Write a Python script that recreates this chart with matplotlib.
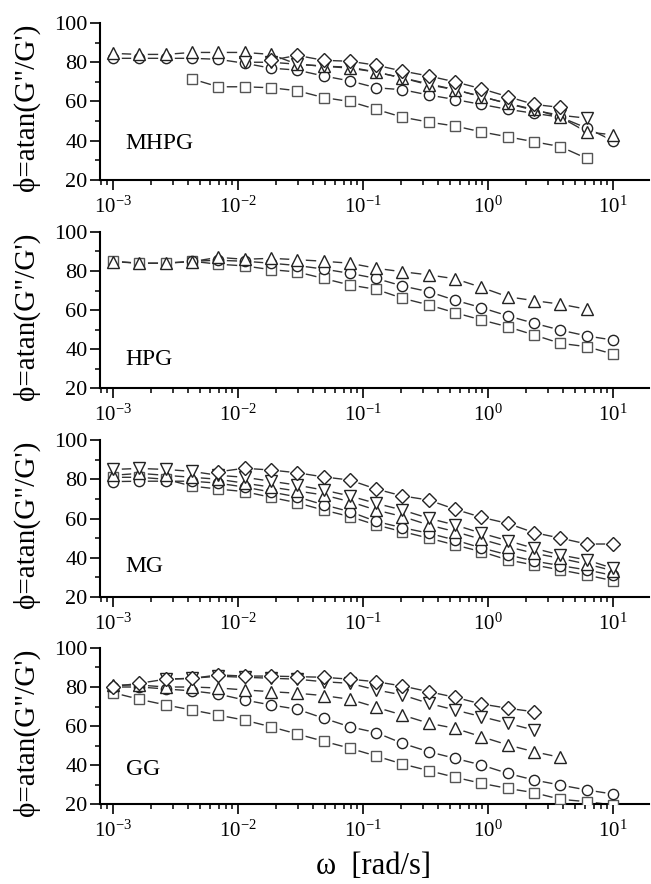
import numpy as np
import matplotlib
matplotlib.use("Agg")
import matplotlib.pyplot as plt
from matplotlib.ticker import LogLocator, MultipleLocator, NullFormatter

plt.rcParams['font.family'] = ['Liberation Serif', 'DejaVu Serif']
plt.rcParams['mathtext.fontset'] = 'custom'
plt.rcParams['mathtext.rm'] = 'Liberation Serif'

nan = np.nan

# angular frequency (rad/s)
omega = [0.001, 0.001624, 0.002637, 0.004281, 0.006952, 0.01129, 0.01833,
         0.02976, 0.04833, 0.07848, 0.1274, 0.2069, 0.336, 0.5456, 0.8859,
         1.438, 2.336, 3.793, 6.158, 10.0]

# MHPG
mhpg_sq = [nan, nan, nan, 71.5, 67.5, 67.5, 67, 65.5, 62, 60, 56, 52, 49.5,
           47.5, 44.5, 42, 39.5, 37, 31, nan]
mhpg_ci = [82, 82, 82, 82, 81.5, 79.5, 77, 76, 73, 70.5, 67, 66, 63.3, 61,
           58.5, 56, 54, 52, 46.5, 40]
mhpg_up = [84.5, 84, 84, 85, 85, 85, 84, 79, 78, 77, 75, 72, 68.5, 66, 62.5,
           59, 56, 52, 44.5, 43]
mhpg_dn = [nan, nan, nan, nan, nan, 80, 80, 79, 78, 77.5, 75, 72, 69, 66,
           62.5, 59, 55.5, 53, 51.5, nan]
mhpg_di = [nan, nan, nan, nan, nan, nan, 81, 83.5, 81, 80.5, 78.5, 75.5, 73,
           70, 66.5, 62.5, 58.5, 57, nan, nan]

# HPG
hpg_sq = [85, 84, 84, 85, 83.5, 82.6, 80.7, 79.5, 76.2, 72.8, 70.6, 66, 62.6,
          58.6, 54.9, 51.4, 47.2, 42.9, 41.2, 37.4]
hpg_ci = [nan, nan, nan, 85, 85.5, 85, 84, 82.8, 81, 78.8, 76.2, 72.3, 69.4,
          65, 61.2, 57, 53.2, 49.7, 46.7, 44.6]
hpg_up = [84.8, 84, 84, 84.8, 87, 86, 86.5, 85.8, 85, 84, 81.4, 79.6, 78, 76,
          71.6, 66.8, 64.8, 63, 60.4, nan]

# MG
mg_sq = [81, 81, 80, 76.5, 75, 73.7, 70.8, 68, 64.3, 61, 56.7, 53.3, 50, 46.5,
         43.1, 38.9, 36.3, 33.8, 31.2, 28.3]
mg_ci = [78.8, 79, 79, 79, 78, 76, 73.5, 71, 67, 63.5, 58.5, 55.3, 52.5, 49,
         45, 41.5, 38.3, 36, 33.8, 31]
mg_up = [82, 83, 82, 81, 80, 78, 76, 74, 72, 68.6, 64.3, 61, 56.7, 53.3, 49.4,
         45.6, 42.3, 39.7, 36.8, 33.4]
mg_dn = [85, 85.5, 85, 84, 82, 81, 79, 77, 74.5, 71.5, 67.7, 64.3, 60.1, 56.7,
         52.5, 48.7, 44.8, 41.4, 38.9, 34.6]
mg_di = [nan, nan, nan, nan, 83.8, 85.6, 84.7, 83.3, 81.2, 79.6, 75, 71.5,
         69.4, 64.7, 60.6, 57.5, 52.8, 50, 47, 47]

# GG
gg_sq = [77.1, 73.7, 70.8, 68.2, 65.6, 63, 59.6, 55.9, 52.2, 48.6, 44.6, 40.5,
         37.1, 33.7, 30.6, 28, 25.8, 22.4, 21.2, 19.5]
gg_ci = [80, 80, 79, 78, 76.4, 73.3, 70.8, 68.6, 64, 59.6, 56.6, 51.1, 46.8,
         43.4, 40, 35.7, 32.3, 29.7, 27.2, 25.1]
gg_up = [81, 81, 80, 80, 79.5, 78.5, 77.6, 76.8, 75.6, 73.7, 69.6, 65.6, 61.4,
         58.8, 54.5, 50.3, 46.8, 43.9, nan, nan]
gg_dn = [nan, nan, 84, 84.5, 85.5, 85, 84.5, 84, 82.7, 81.9, 78.5, 75.9, 71.6,
         68.2, 64.8, 61.4, 57.9, nan, nan, nan]
gg_di = [80.2, 81.9, 84, 84.4, 86.2, 85.6, 85.6, 85.3, 85, 84, 82.7, 80.5,
         77.6, 74.7, 71.3, 69.1, 67.3, nan, nan, nan]

panels = [
    ("MHPG", [("s", mhpg_sq), ("o", mhpg_ci), ("^", mhpg_up), ("v", mhpg_dn), ("D", mhpg_di)], 0.20),
    ("HPG", [("s", hpg_sq), ("o", hpg_ci), ("^", hpg_up)], 0.147),
    ("MG", [("s", mg_sq), ("o", mg_ci), ("^", mg_up), ("v", mg_dn), ("D", mg_di)], 0.16),
    ("GG", [("s", gg_sq), ("o", gg_ci), ("^", gg_up), ("v", gg_dn), ("D", gg_di)], 0.186),
]

msize = {"s": 7.2, "o": 7.4, "^": 8.6, "v": 8.6, "D": 7.0}
ecol = {"s": "#555555", "o": "#222222", "^": "#222222", "v": "#222222", "D": "#222222"}

W, H = 651, 884
fig = plt.figure(figsize=(W / 100, H / 100), dpi=100)

tops = [23, 232, 440, 648]
bots = [180, 388, 597, 804]
x0, x1 = 100, 649

for (name, series, ty), top, bot in zip(panels, tops, bots):
    ax = fig.add_axes([x0 / W, 1 - bot / H, (x1 - x0) / W, (bot - top) / H])
    for m, vals in series:
        y = np.array(vals, dtype=float)
        ax.plot(omega, y, '-', color='#333333', lw=1.0, zorder=1)
        ax.plot(omega, y, 'o', ms=12, mfc='white', mec='white', mew=0, zorder=2)
    for m, vals in series:
        y = np.array(vals, dtype=float)
        ax.plot(omega, y, m, ms=msize[m], mfc='white', mec=ecol[m], mew=1.0, zorder=3)

    ax.set_xscale('log')
    ax.set_xlim(10 ** -3.104, 10 ** 1.288)
    ax.set_ylim(20, 100)
    ax.yaxis.set_major_locator(MultipleLocator(20))
    ax.yaxis.set_minor_locator(MultipleLocator(10))
    ax.xaxis.set_major_locator(LogLocator(base=10, numticks=10))
    ax.xaxis.set_minor_locator(LogLocator(base=10, subs=np.arange(2, 10), numticks=20))
    ax.xaxis.set_minor_formatter(NullFormatter())
    for s in ['top', 'right']:
        ax.spines[s].set_visible(False)
    for s in ['left', 'bottom']:
        ax.spines[s].set_linewidth(1.5)
    ax.tick_params(which='major', direction='out', length=7, width=1.2, labelsize=16, pad=2)
    ax.tick_params(axis='x', which='major', pad=5, labelsize=15)
    ax.tick_params(which='minor', direction='out', length=3.5, width=1.1)

    ax.set_ylabel("\u03d5=atan(G\"/G')", fontsize=21)
    ax.yaxis.set_label_coords(-0.11, 0.46)
    ax.text(0.047, ty, name, transform=ax.transAxes, fontsize=17, va='baseline', ha='left')

fig.text(374 / W, 1 - 866 / H, "\u03c9  [rad/s]", fontsize=22, ha='center', va='center')

fig.savefig("out.png", dpi=100)
